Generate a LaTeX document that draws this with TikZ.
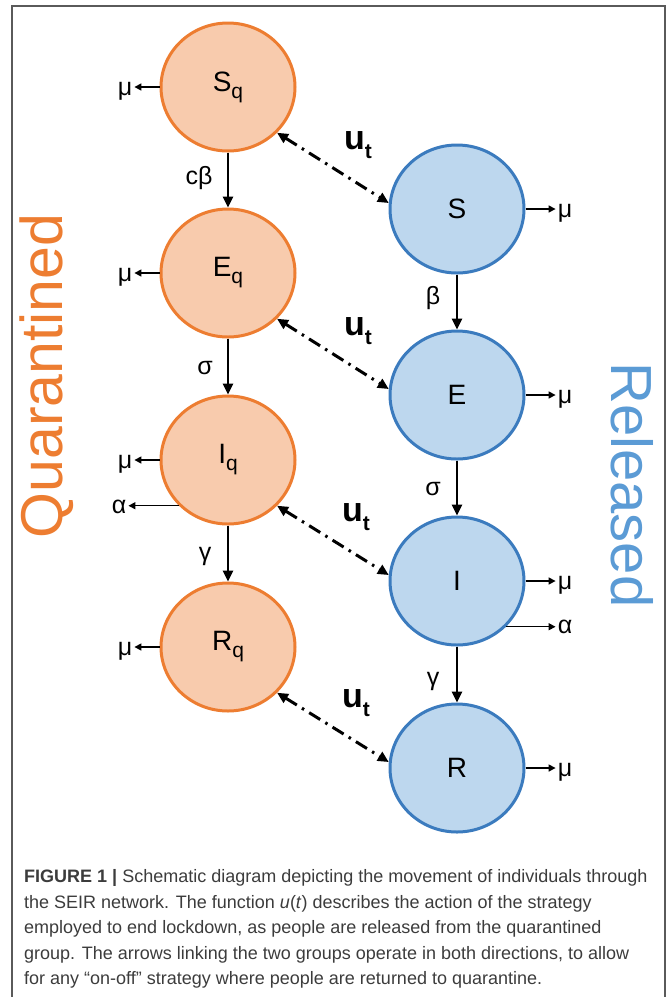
\documentclass[tikz,border=0pt]{standalone}
\usepackage{fontspec}
\setmainfont{Liberation Sans}
\usetikzlibrary{arrows.meta,shapes.geometric}

\definecolor{qfill}{HTML}{F8CBAD}
\definecolor{qline}{HTML}{ED7D31}
\definecolor{rfill}{HTML}{BDD7EE}
\definecolor{rline}{HTML}{3B7BBE}
\definecolor{rtext}{HTML}{5B9BD5}
\definecolor{framegray}{HTML}{5A5A5A}
\definecolor{captext}{HTML}{3C3C3C}

\newcommand{\subq}[1]{#1\raisebox{-7pt}{\fontsize{21}{21}\selectfont q}}
\newcommand{\ut}{u\raisebox{-9pt}{\fontsize{21}{21}\selectfont\bfseries t}}

\begin{document}
\begin{tikzpicture}[x=1pt,y=-1pt,
  comp/.style={ellipse, minimum width=134pt, minimum height=128pt,
    line width=3pt, inner sep=0pt, font=\fontsize{28}{28}\selectfont},
  qcomp/.style={comp, draw=qline, fill=qfill},
  rcomp/.style={comp, draw=rline, fill=rfill},
  flow/.style={line width=2.6pt, -{Triangle[length=11pt,width=10pt]}},
  loss/.style={line width=1.5pt, -{Triangle[length=7pt,width=7pt]}},
  swap/.style={line width=3pt, dash pattern=on 13pt off 6pt on 2.5pt off 6pt,
    {Triangle[length=11pt,width=10pt]}-{Triangle[length=11pt,width=10pt]}},
  rate/.style={font=\fontsize{25}{25}\selectfont, inner sep=2pt},
  ut/.style={font=\fontsize{34}{34}\selectfont\bfseries, inner sep=0pt},
]
\useasboundingbox (0,0) rectangle (667,997);

% open frame
\draw[framegray, line width=2pt] (12,997) -- (12,6) -- (665,6) -- (665,997);

% group titles
\node[rotate=90, text=qline, font=\fontsize{59}{59}\selectfont] (qtitle) at (47,376) {Quarantined};
\node[rotate=-90, text=rtext, font=\fontsize{58}{58}\selectfont] (rtitle) at (632,485) {Released};

% quarantined compartments
\node[qcomp] (Sq) at (228,87)  {\subq{S}};
\node[qcomp] (Eq) at (228,273) {\subq{E}};
\node[qcomp] (Iq) at (228,460) {\subq{I}};
\node[qcomp] (Rq) at (228,647) {\subq{R}};

% released compartments
\node[rcomp] (S) at (457,209) {S};
\node[rcomp] (E) at (457,395) {E};
\node[rcomp] (I) at (457,581) {I};
\node[rcomp] (R) at (457,768) {R};

% progression
\draw[flow] (Sq) -- (Eq);
\draw[flow] (Eq) -- (Iq);
\draw[flow] (Iq) -- (Rq);
\draw[flow] (S) -- (E);
\draw[flow] (E) -- (I);
\draw[flow] (I) -- (R);

\node[rate] (r1) at (199,178) {cβ};
\node[rate] (r2) at (205,368) {σ};
\node[rate] (r3) at (205,556) {γ};
\node[rate] (r4) at (433,298) {β};
\node[rate] (r5) at (433,489) {σ};
\node[rate] (r6) at (433,681) {γ};

% exchange between groups
\draw[swap] (Sq.-43) -- (S.175);
\draw[swap] (Eq.-43) -- (E.175);
\draw[swap] (Iq.-43) -- (I.175);
\draw[swap] (Rq.-43) -- (R.175);

\node[ut] (u1) at (358,145) {\ut};
\node[ut] (u2) at (358,331) {\ut};
\node[ut] (u3) at (356,517) {\ut};
\node[ut] (u4) at (356,703) {\ut};

% deaths, quarantined side
\node[rate] (mSq) at (125,91)  {μ};
\node[rate] (mEq) at (125,277) {μ};
\node[rate] (mIq) at (125,464) {μ};
\node[rate] (aIq) at (119,507) {α};
\node[rate] (mRq) at (125,651) {μ};
\draw[loss] (Sq.west) -- (mSq.east |- Sq.west);
\draw[loss] (Eq.west) -- (mEq.east |- Eq.west);
\draw[loss] (Iq.west) -- (mIq.east |- Iq.west);
\draw[loss] (Iq.-137) -- (aIq.east |- Iq.-137);
\draw[loss] (Rq.west) -- (mRq.east |- Rq.west);

% deaths, released side
\node[rate] (mS) at (565,213) {μ};
\node[rate] (mE) at (565,399) {μ};
\node[rate] (mI) at (565,585) {μ};
\node[rate] (aI) at (565,627) {α};
\node[rate] (mR) at (565,772) {μ};
\draw[loss] (S.east) -- (mS.west |- S.east);
\draw[loss] (E.east) -- (mE.west |- E.east);
\draw[loss] (I.east) -- (mI.west |- I.east);
\draw[loss] (I.-43) -- (aI.west |- I.-43);
\draw[loss] (R.east) -- (mR.west |- R.east);

% caption
\node[anchor=north west, align=left, text=captext, inner sep=0pt,
  font=\fontsize{18}{25.5}\selectfont] (cap) at (24,869.5)
{\textbf{FIGURE 1 |} Schematic diagram depicting the movement of individuals through\\
the SEIR network. The function \textit{u}(\textit{t}) describes the action of the strategy\\
employed to end lockdown, as people are released from the quarantined\\
group. The arrows linking the two groups operate in both directions, to allow\\
for any “on-off” strategy where people are returned to quarantine.};
\end{tikzpicture}
\end{document}
